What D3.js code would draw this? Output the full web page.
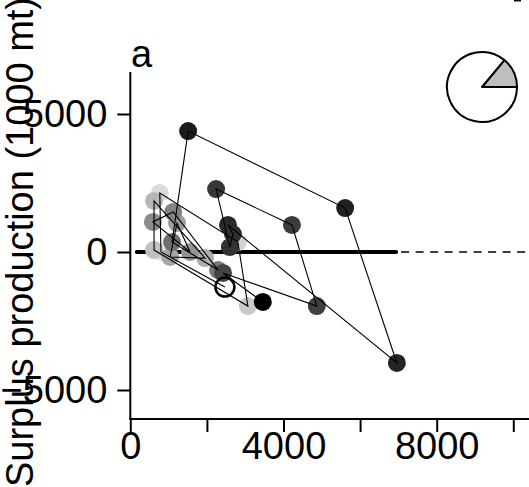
<!DOCTYPE html>
<html><head><meta charset="utf-8">
<script src="https://cdn.jsdelivr.net/npm/d3@7/dist/d3.min.js"></script>
<style>
html,body{margin:0;padding:0;background:#fff;}
svg{display:block;font-family:"Liberation Sans",Arial,Helvetica,sans-serif;}
</style></head>
<body>
<script>
// ---- data ----
const biomass = [2470, 800, 770, 2810, 3070, 620, 620, 1950, 1040, 1220, 1560, 590, 1120, 2290, 1090, 1510, 5610, 6960, 2550, 2680, 2600, 2240, 4220, 4870, 2420, 3460];
const surplus = [-1270, 0, 2140, 360, -1960, 70, 1850, -220, -180, 1050, 0, 1090, 1450, -650, 360, 4380, 1590, -4020, 980, 650, 180, 2280, 980, -1960, -760, -1810];
const yearIndex = d3.range(biomass.length);
const xTicks = [0, 2000, 4000, 6000, 8000, 10000];
const xTickLabels = ["0", "", "4000", "", "8000", ""];
const yTicks = [-5000, 0, 5000];
const yTickLabels = ["\u22125000", "0", "5000"];
const refSegment = [170, 6940];
const pieValues = [0.14, 0.86];
const panelLabel = "a";
const yTitle = "Surplus production (1000 mt)";

// ---- drawing ----
const W = 529, H = 487;
const svg = d3.select("body").append("svg").attr("width", W).attr("height", H);

const x = d3.scaleLinear().domain([0, 4000]).range([130.3, 283.5]);
const y = d3.scaleLinear().domain([-5000, 5000]).range([390, 114]);
const yTopV = 6520, yBotV = -6050, xRightV = 10500;

const n = yearIndex.length;
const shade = d3.scaleLinear()
  .domain([1, 14, 15, n - 2, n - 1])
  .range(["#e4e4e4", "#707070", "#1c1c1c", "#444444", "#000000"]);

const font = 38;

// axes lines
svg.append("line").attr("x1", x(0)).attr("x2", x(0)).attr("y1", y(yTopV)).attr("y2", y(yBotV))
  .attr("stroke", "#000").attr("stroke-width", 2);
svg.append("line").attr("x1", x(0) - 1).attr("x2", x(xRightV)).attr("y1", y(yBotV)).attr("y2", y(yBotV))
  .attr("stroke", "#000").attr("stroke-width", 2);

// y axis ticks
const yAxis = d3.axisLeft(y).tickValues(yTicks).tickSize(13).tickPadding(10)
  .tickFormat((d, i) => yTickLabels[i]);
const gy = svg.append("g").attr("transform", `translate(${x(0)},0)`).call(yAxis);
gy.select(".domain").remove();
gy.selectAll(".tick line").attr("stroke", "#000").attr("stroke-width", 2);
gy.selectAll(".tick text").attr("font-size", font).attr("fill", "#000")
  .attr("font-family", "Liberation Sans, Arial, sans-serif");

// x axis ticks
const xAxis = d3.axisBottom(x).tickValues(xTicks).tickSize(13).tickPadding(0)
  .tickFormat((d, i) => xTickLabels[i]);
const gx = svg.append("g").attr("transform", `translate(0,${y(yBotV)})`).call(xAxis);
gx.select(".domain").remove();
gx.selectAll(".tick line").attr("stroke", "#000").attr("stroke-width", 2);
gx.selectAll(".tick text").attr("font-size", font).attr("fill", "#000")
  .attr("font-family", "Liberation Sans, Arial, sans-serif");

// y title
svg.append("text").attr("transform", `translate(33,242) rotate(-90)`)
  .attr("text-anchor", "middle").attr("font-size", font).attr("fill", "#000")
  .text(yTitle);

// panel label
svg.append("text").attr("x", 131).attr("y", 67).attr("font-size", font).attr("fill", "#000")
  .text(panelLabel);

// zero reference line
svg.append("line").attr("x1", x(refSegment[0])).attr("x2", x(refSegment[1]))
  .attr("y1", y(0)).attr("y2", y(0)).attr("stroke", "#000").attr("stroke-width", 4)
  .attr("stroke-linecap", "round");
svg.append("line").attr("x1", x(refSegment[1]) + 5).attr("x2", W)
  .attr("y1", y(0)).attr("y2", y(0)).attr("stroke", "#000").attr("stroke-width", 1.6)
  .attr("stroke-dasharray", "8,6.5");

// points (first one is drawn as an open circle)
const pts = yearIndex.map(i => ({i, bx: biomass[i], sp: surplus[i]}));
svg.append("g").selectAll("circle").data(pts.slice(1)).join("circle")
  .attr("cx", d => x(d.bx)).attr("cy", d => y(d.sp)).attr("r", 9)
  .attr("fill", d => shade(d.i));

// trajectory
const line = d3.line().x(d => x(d.bx)).y(d => y(d.sp));
svg.append("path").datum(pts).attr("d", line).attr("fill", "none")
  .attr("stroke", "#000").attr("stroke-width", 1.1).attr("stroke-linejoin", "miter");

// first point as open circle
svg.append("circle").attr("cx", x(pts[0].bx)).attr("cy", y(pts[0].sp)).attr("r", 9.5)
  .attr("fill", "none").attr("stroke", "#000").attr("stroke-width", 2.5);

// pie inset
const pie = d3.pie().sort(null).startAngle(Math.PI / 2).endAngle(Math.PI / 2 - 2 * Math.PI);
const arc = d3.arc().innerRadius(0).outerRadius(35);
const gp = svg.append("g").attr("transform", "translate(482,87)");
gp.selectAll("path").data(pie(pieValues)).join("path")
  .attr("d", arc).attr("fill", (d, i) => i === 0 ? "#bebebe" : "#ffffff")
  .attr("stroke", "#000").attr("stroke-width", 2).attr("stroke-linejoin", "round");

// small remnant mark at top right
svg.append("line").attr("x1", 514).attr("x2", 521).attr("y1", 0.5).attr("y2", 0.5)
  .attr("stroke", "#000").attr("stroke-width", 2);
</script>
</body></html>
